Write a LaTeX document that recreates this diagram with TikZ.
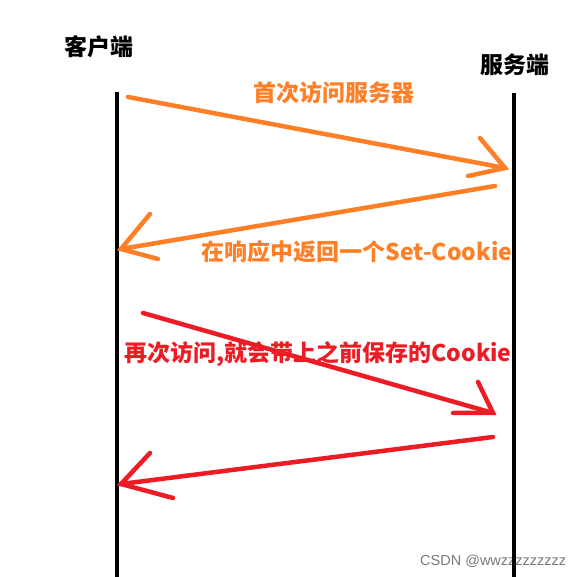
\documentclass[tikz,border=0pt]{standalone}
\usepackage{fontspec}
\setmainfont{Noto Sans CJK SC}
\newfontfamily\wmfont{Liberation Sans}
\definecolor{paintorange}{HTML}{FF7F27}
\definecolor{paintred}{HTML}{ED1C24}
\definecolor{wmgray}{HTML}{7A7A7A}
\begin{document}
\begin{tikzpicture}[x=1pt,y=-1pt,
  lifeline/.style={line width=4pt,black},
  msgo/.style={line width=4.5pt,paintorange,line cap=round},
  msgr/.style={line width=4.5pt,paintred,line cap=round},
  actor/.style={font=\fontsize{23}{23}\selectfont\bfseries,text=black,inner sep=0pt},
  labo/.style={font=\fontsize{23}{23}\selectfont\bfseries,text=paintorange,inner sep=0pt},
  labr/.style={font=\fontsize{23}{23}\selectfont\bfseries,text=paintred,inner sep=0pt},
  wm/.style={font=\wmfont\fontsize{14.5}{14.5}\selectfont,text=wmgray,inner sep=0pt}]
\useasboundingbox (0,0) rectangle (582,577);
% watermark (under the lifeline, as in the reference)
\node[wm,anchor=west] (wmk) at (420,561) {CSDN @wwzzzzzzzzz};
% actors
\node[actor] (client) at (99,47) {客户端};
\node[actor] (server) at (515,65) {服务端};
% lifelines
\coordinate (ctop) at (116.5,92);
\coordinate (cbot) at (116.5,577);
\coordinate (stop) at (514,93);
\coordinate (sbot) at (514,577);
\draw[lifeline] (ctop) -- (cbot);
\draw[lifeline] (stop) -- (sbot);
% arrow 1
\coordinate (a1s) at (128,97);
\coordinate (a1e) at (505,168);
\coordinate (a1u) at (480,138);
\coordinate (a1l) at (468,176);
\draw[msgo] (a1s) -- (a1e);
\draw[msgo] (a1u) -- (a1e) -- (a1l);
\node[labo] (l1) at (334,93) {首次访问服务器};
% arrow 2
\coordinate (a2s) at (495,186);
\coordinate (a2e) at (121,249);
\coordinate (a2u) at (150,214);
\coordinate (a2l) at (158,259);
\draw[msgo] (a2s) -- (a2e);
\draw[msgo] (a2u) -- (a2e) -- (a2l);
\node[labo] (l2) at (357,252) {在响应中返回一个Set-Cookie};
% arrow 3
\coordinate (a3s) at (143,313);
\coordinate (a3e) at (493,413);
\coordinate (a3u) at (478,382);
\coordinate (a3l) at (453,413);
\draw[msgr] (a3s) -- (a3e);
\draw[msgr] (a3u) -- (a3e) -- (a3l);
\node[labr] (l3) at (318,354) {再次访问,就会带上之前保存的Cookie};
% arrow 4
\coordinate (a4s) at (493,437);
\coordinate (a4e) at (121,484);
\coordinate (a4u) at (150,453);
\coordinate (a4l) at (173,498);
\draw[msgr] (a4s) -- (a4e);
\draw[msgr] (a4u) -- (a4e) -- (a4l);
\end{tikzpicture}
\end{document}
